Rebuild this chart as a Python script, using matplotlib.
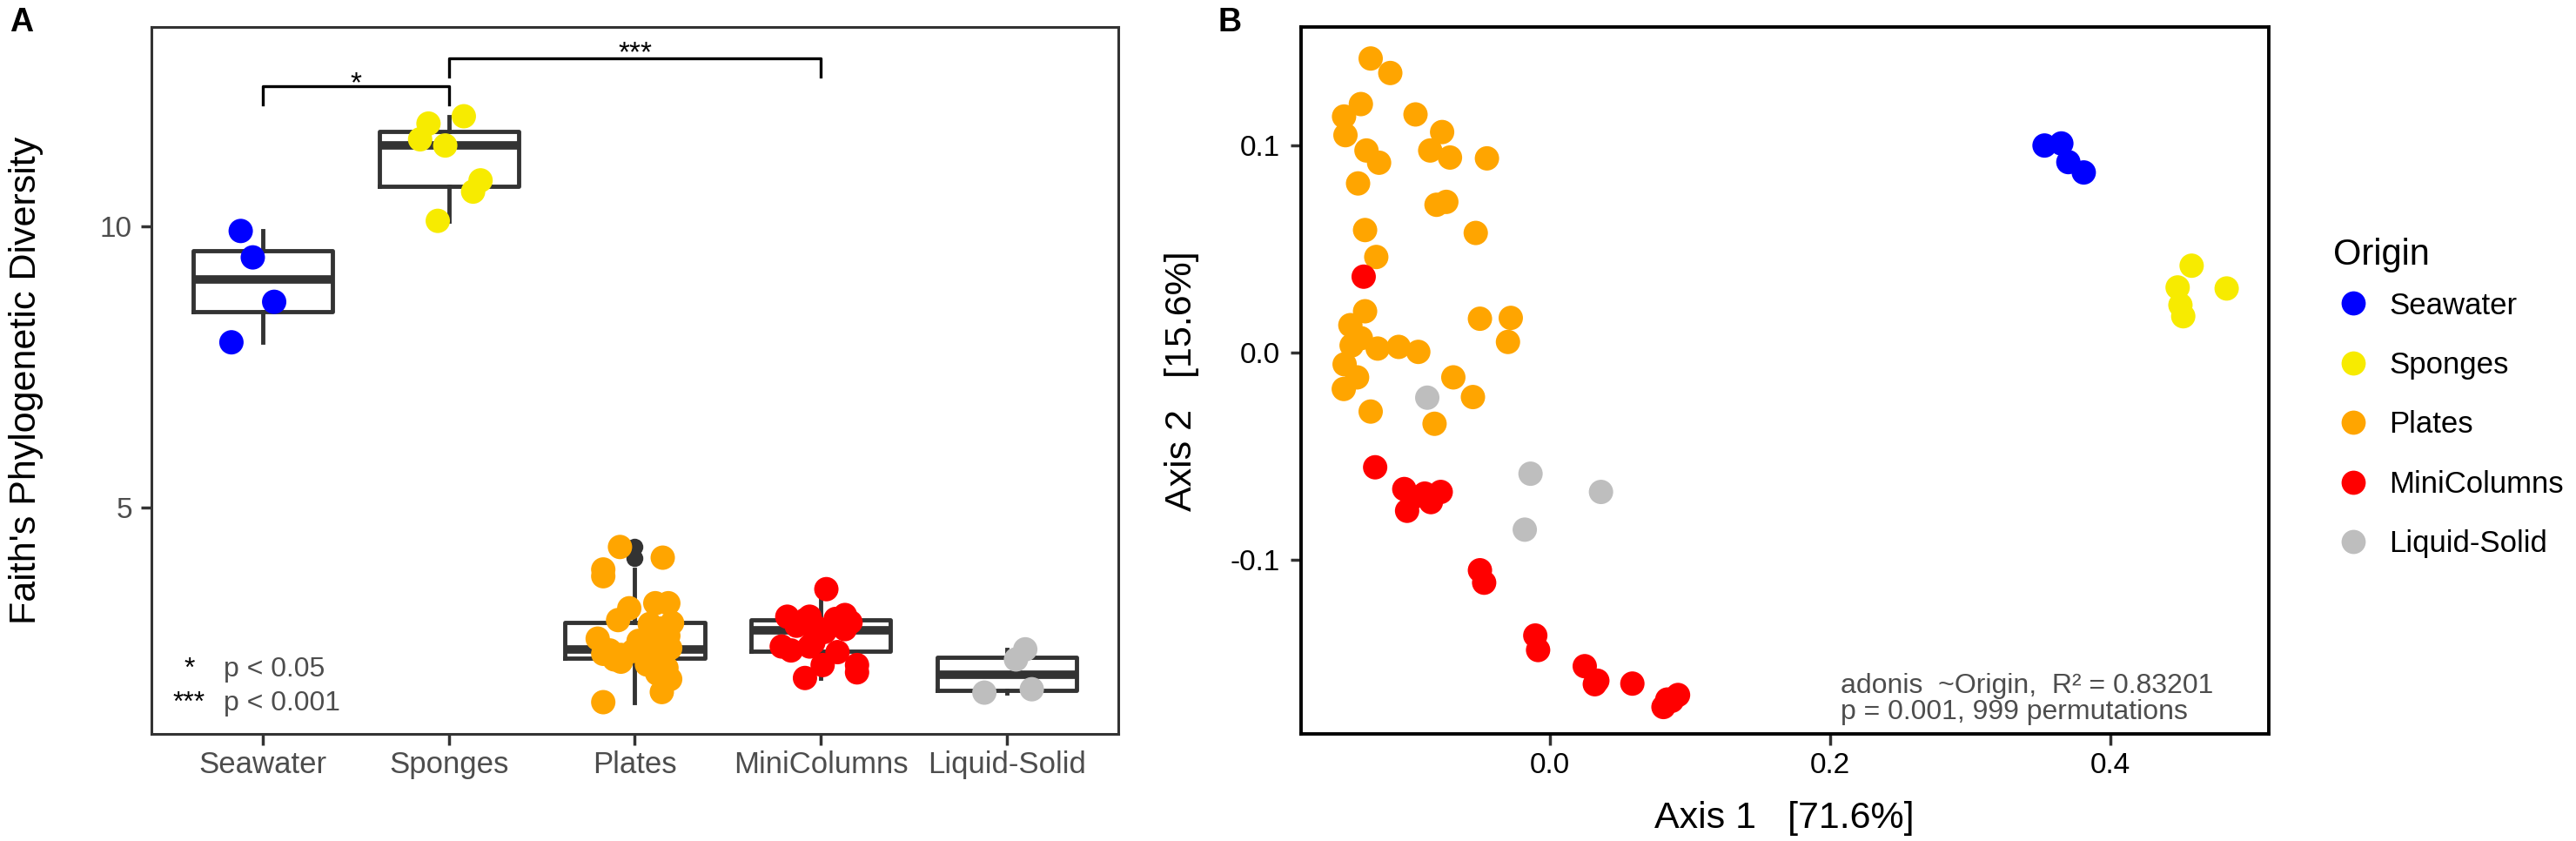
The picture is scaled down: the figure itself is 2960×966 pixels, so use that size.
import matplotlib
matplotlib.use("Agg")
import matplotlib.pyplot as plt
from matplotlib.lines import Line2D
from matplotlib.ticker import FormatStrFormatter

plt.rcParams["font.family"] = ["Liberation Sans", "DejaVu Sans"]

origins = ["Seawater", "Sponges", "Plates", "MiniColumns", "Liquid-Solid"]
origin_colors = ["#0000FF", "#F7EB00", "#FFA500", "#FF0000", "#BEBEBE"]

# panel A - Faith's PD per sample, plus the jitter offsets
faith_seawater = [9.92, 9.45, 8.66, 7.94]
jit_seawater = [-0.12, -0.055, 0.06, -0.17]
faith_sponges = [11.96, 11.83, 11.55, 11.44, 10.82, 10.62, 10.10]
jit_sponges = [0.08, -0.11, -0.155, -0.02, 0.17, 0.13, -0.06]
faith_plates = [4.30, 4.11, 3.90, 3.78, 3.30, 3.30, 3.21, 3.00, 2.95, 2.93, 2.85,
                2.72, 2.67, 2.63, 2.57, 2.50, 2.46, 2.45, 2.44, 2.42, 2.40, 2.38,
                2.36, 2.33, 2.30, 2.26, 2.21, 2.15, 2.05, 1.95, 1.72, 1.54]
jit_plates = [-0.08, 0.15, -0.17, -0.17, 0.11, 0.18, -0.03, -0.09, 0.20, 0.08, 0.145,
              0.18, -0.20, 0.02, 0.11, 0.19, -0.135, -0.01, 0.145, 0.05, -0.17, -0.075,
              0.145, 0.09, -0.11, -0.075, 0.065, 0.17, 0.12, 0.19, 0.145, -0.17]
faith_minicol = [3.55, 3.09, 3.06, 3.06, 3.02, 3.00, 2.96, 2.90, 2.86, 2.84,
                 2.79, 2.60, 2.53, 2.53, 2.46, 2.43, 2.20, 2.20, 2.07, 1.97]
jit_minicol = [0.03, 0.13, -0.18, -0.06, 0.08, -0.085, 0.16, -0.13, -0.02, 0.13,
               0.02, -0.04, -0.06, -0.21, -0.16, 0.09, 0.195, 0.01, 0.195, -0.085]
faith_liqsol = [2.48, 2.30, 1.71, 1.77]
jit_liqsol = [0.10, 0.05, -0.12, 0.135]

# panel B - PCoA coordinates
pc1_seawater = [0.353, 0.365, 0.370, 0.381]
pc2_seawater = [0.100, 0.101, 0.092, 0.087]
pc1_sponges = [0.458, 0.448, 0.452, 0.450, 0.483]
pc2_sponges = [0.042, 0.0315, 0.0176, 0.023, 0.031]
pc1_plates = [-0.128, -0.114, -0.135, -0.147, -0.146, -0.096, -0.131, -0.122, -0.137,
              -0.132, -0.124, -0.077, -0.0855, -0.0714, -0.045, -0.081, -0.074, -0.053,
              -0.050, -0.028, -0.030, -0.108, -0.094, -0.123, -0.069, -0.132, -0.1425,
              -0.135, -0.1416, -0.1466, -0.1377, -0.1472, -0.128, -0.0824, -0.055]
pc2_plates = [0.142, 0.135, 0.120, 0.114, 0.105, 0.115, 0.0976, 0.0917, 0.0817,
              0.0592, 0.0462, 0.1065, 0.0976, 0.0942, 0.0938, 0.0714, 0.0728, 0.0578,
              0.0164, 0.0168, 0.0052, 0.0028, 0.0004, 0.002, -0.0119, 0.020, 0.0133,
              0.0070, 0.0035, -0.0056, -0.0119, -0.0175, -0.0284, -0.0343, -0.0214]
pc1_minicol = [-0.133, -0.1248, -0.104, -0.102, -0.0894, -0.078, -0.085, -0.098, -0.050,
               -0.047, -0.0105, -0.0085, 0.0248, 0.0338, 0.032, 0.0588, 0.0837, 0.0914,
               0.081, 0.087]
pc2_minicol = [0.0367, -0.0553, -0.0658, -0.0763, -0.068, -0.0672, -0.0721, -0.070,
               -0.105, -0.111, -0.1365, -0.1435, -0.1513, -0.1583, -0.160, -0.1597,
               -0.1674, -0.1652, -0.171, -0.168]
pc1_liqsol = [-0.0876, -0.0139, 0.0364, -0.018]
pc2_liqsol = [-0.0217, -0.0584, -0.0672, -0.0854]

faith = [faith_seawater, faith_sponges, faith_plates, faith_minicol, faith_liqsol]
jitter = [jit_seawater, jit_sponges, jit_plates, jit_minicol, jit_liqsol]
pc1 = [pc1_seawater, pc1_sponges, pc1_plates, pc1_minicol, pc1_liqsol]
pc2 = [pc2_seawater, pc2_sponges, pc2_plates, pc2_minicol, pc2_liqsol]

dark = "#333333"
grey30 = "#4D4D4D"
dot = 406

fig = plt.figure(figsize=(29.6, 9.66), dpi=100)
axA = fig.add_axes([0.0588, 0.1273, 0.3753, 0.8401])
axB = fig.add_axes([0.5049, 0.1273, 0.3758, 0.8401])

# ---- panel A: boxplots + jittered points
axA.boxplot(faith, positions=range(len(origins)), widths=0.75, showcaps=False,
            boxprops=dict(color=dark, linewidth=3.5),
            whiskerprops=dict(color=dark, linewidth=3.5),
            medianprops=dict(color=dark, linewidth=7, solid_capstyle="butt"),
            flierprops=dict(marker="o", markerfacecolor=dark, markeredgecolor="none",
                            markersize=14),
            zorder=2)
for i in range(len(origins)):
    xs = [i + j for j in jitter[i]]
    axA.scatter(xs, faith[i], s=dot, color=origin_colors[i], edgecolors="none", zorder=3)

# significance brackets
axA.plot([0, 0, 1, 1], [12.17, 12.49, 12.49, 12.17], color="black", lw=2.4)
axA.text(0.5, 12.40, "*", ha="center", va="baseline", fontsize=24, color="black")
axA.plot([1, 1, 3, 3], [12.66, 12.99, 12.99, 12.66], color="black", lw=2.4)
axA.text(2.0, 12.94, "***", ha="center", va="baseline", fontsize=24, color="black")

# key for the stars
axA.text(-0.397, 2.0, "*", ha="center", va="baseline", fontsize=23, color="black")
axA.text(-0.214, 2.0, "p < 0.05", ha="left", va="baseline", fontsize=23, color=grey30)
axA.text(-0.397, 1.39, "***", ha="center", va="baseline", fontsize=23, color="black")
axA.text(-0.214, 1.39, "p < 0.001", ha="left", va="baseline", fontsize=23, color=grey30)

axA.set_xlim(-0.6, 4.6)
axA.set_ylim(0.975, 13.54)
axA.set_xticks(range(len(origins)))
axA.set_xticklabels(origins)
axA.set_yticks([5, 10])
axA.tick_params(axis="x", labelsize=25, colors=dark, labelcolor=grey30, length=9,
                width=2.5, pad=5)
axA.tick_params(axis="y", labelsize=24, colors=dark, labelcolor=grey30, length=9,
                width=2.5, pad=7)
for s in axA.spines.values():
    s.set_color(dark)
    s.set_linewidth(2.2)
axA.set_ylabel("Faith's Phylogenetic Diversity", fontsize=31, color="black")
axA.yaxis.set_label_coords(-0.112, 0.5)

# ---- panel B: PCoA
for i in range(len(origins)):
    axB.scatter(pc1[i], pc2[i], s=dot, color=origin_colors[i], edgecolors="none", zorder=3)

axB.text(0.2075, -0.1798, "adonis  ~Origin,  R\u00b2 = 0.83201\np = 0.001, 999 permutations",
         ha="left", va="bottom", fontsize=23, color=grey30, linespacing=1.0)

axB.set_xlim(-0.178, 0.513)
axB.set_ylim(-0.184, 0.157)
axB.set_xticks([0.0, 0.2, 0.4])
axB.set_yticks([-0.1, 0.0, 0.1])
axB.xaxis.set_major_formatter(FormatStrFormatter("%.1f"))
axB.yaxis.set_major_formatter(FormatStrFormatter("%.1f"))
axB.tick_params(axis="x", labelsize=24, colors=dark, labelcolor="black", length=9,
                width=2.5, pad=6)
axB.tick_params(axis="y", labelsize=24, colors=dark, labelcolor="black", length=9,
                width=2.5, pad=8)
for s in axB.spines.values():
    s.set_color("black")
    s.set_linewidth(2.8)
axB.set_xlabel("Axis 1   [71.6%]", fontsize=31, color="black")
axB.xaxis.set_label_coords(0.5, -0.095)
axB.set_ylabel("Axis 2   [15.6%]", fontsize=31, color="black")
axB.yaxis.set_label_coords(-0.105, 0.5)

# legend (title drawn as its own text so the gap under it can match)
handles = [Line2D([], [], marker="o", ls="", markersize=20, markerfacecolor=c,
                  markeredgecolor="none") for c in origin_colors]
fig.legend(handles, origins, loc="upper left",
           bbox_to_anchor=(0.8908, 0.6871), frameon=False, fontsize=25,
           handlelength=2.0, handletextpad=0.2, labelspacing=1.02, borderpad=0.43)
fig.text(0.9057, 0.697, "Origin", fontsize=30, ha="left", va="center")

fig.text(11 / 2960, 1 - 8 / 966, "A", fontsize=27, fontweight="bold", ha="left", va="top")
fig.text(1400 / 2960, 1 - 8 / 966, "B", fontsize=27, fontweight="bold", ha="left", va="top")

fig.savefig("out.png", dpi=100)
